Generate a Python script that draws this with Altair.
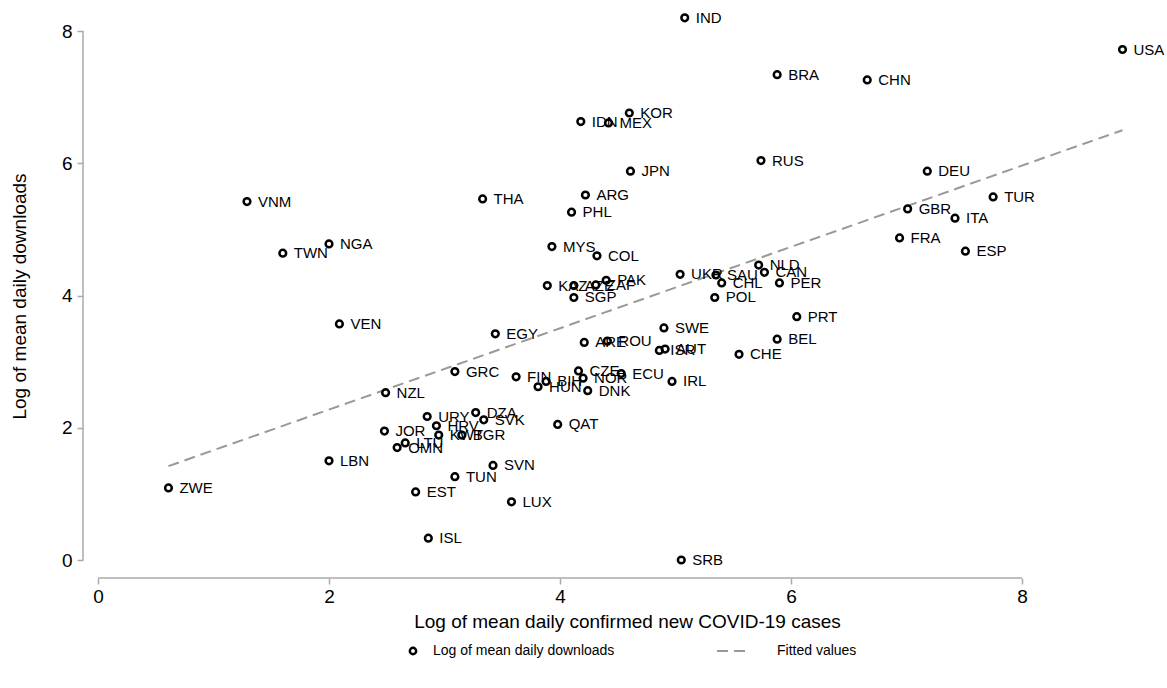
import altair as alt
import pandas as pd

countries = ["IND","USA","BRA","CHN","KOR","IDN","MEX","JPN","RUS","DEU","TUR","GBR","ITA","FRA","ESP",
             "VNM","THA","ARG","PHL","TWN","NGA","MYS","COL","KAZ","AZE","ZAF","PAK","SGP","UKR","SAU",
             "CHL","NLD","CAN","PER","POL","PRT","BEL","CHE","SWE","ISR","AUT","ARE","ROU","EGY","VEN",
             "GRC","FIN","BIH","HUN","CZE","NOR","ECU","DNK","IRL","NZL","QAT","DZA","SVK","URY","HRV",
             "JOR","KWT","BGR","LTU","OMN","SVN","TUN","LBN","EST","LUX","ISL","SRB","ZWE"]
log_cases = [5.08,8.87,5.88,6.66,4.60,4.18,4.42,4.61,5.74,7.18,7.75,7.01,7.42,6.94,7.51,
             1.29,3.33,4.22,4.10,1.60,2.00,3.93,4.32,3.89,4.12,4.31,4.40,4.12,5.04,5.35,
             5.40,5.72,5.77,5.90,5.34,6.05,5.88,5.55,4.90,4.86,4.91,4.21,4.41,3.44,2.09,
             3.09,3.62,3.88,3.81,4.16,4.20,4.53,4.24,4.97,2.49,3.98,3.27,3.34,2.85,2.93,
             2.48,2.95,3.15,2.66,2.59,3.42,3.09,2.00,2.75,3.58,2.86,5.05,0.61]
log_downloads = [8.20,7.72,7.34,7.26,6.76,6.63,6.61,5.88,6.04,5.88,5.49,5.31,5.17,4.87,4.67,
                 5.42,5.46,5.52,5.26,4.64,4.78,4.74,4.60,4.15,4.15,4.16,4.23,3.97,4.32,4.31,
                 4.19,4.46,4.35,4.19,3.97,3.68,3.34,3.11,3.51,3.17,3.19,3.29,3.31,3.42,3.57,
                 2.85,2.77,2.70,2.62,2.86,2.75,2.82,2.56,2.70,2.53,2.05,2.23,2.12,2.17,2.03,
                 1.95,1.89,1.89,1.77,1.70,1.43,1.26,1.50,1.03,0.88,0.33,0.00,1.09]
fit_x = [0.61, 8.87]
fit_y = [1.42, 6.50]
axis_ticks = [0, 2, 4, 6, 8]

PX_X = 115.5
PX_Y = 66.125
W = 9.0 * PX_X
H = 550
YMAX = H / PX_Y
FONT = "Liberation Sans"

pts = pd.DataFrame({"country": countries, "x": log_cases, "y": log_downloads})
fit = pd.DataFrame({"x": fit_x, "y": fit_y})

xs = alt.Scale(domain=[0, 9.0], nice=False, zero=False)
ys = alt.Scale(domain=[0, YMAX], nice=False, zero=False)

x_axis = alt.Axis(values=axis_ticks, format="d", domain=False, grid=False, offset=18, tickSize=6,
                  tickColor="#aaaaaa", tickWidth=1.5, labelFontSize=19, labelFont=FONT,
                  labelColor="black", labelPadding=3, labelFlush=False,
                  title="Log of mean daily confirmed new COVID-19 cases",
                  titleFont=FONT, titleFontSize=19, titleFontWeight="normal",
                  titleColor="black", titlePadding=6, titleX=529)
y_axis = alt.Axis(values=axis_ticks, format="d", domain=False, grid=False, offset=15, tickSize=6,
                  tickColor="#aaaaaa", tickWidth=1.5, labelFontSize=19, labelFont=FONT,
                  labelColor="black", labelPadding=5, labelFlush=False,
                  title="Log of mean daily downloads",
                  titleFont=FONT, titleFontSize=19, titleFontWeight="normal",
                  titleColor="black", titlePadding=32, titleY=286)

base_axes = alt.Chart(pd.DataFrame({"a": [0]})).mark_point(opacity=0).encode(
    x=alt.X("a:Q", scale=xs, axis=x_axis),
    y=alt.Y("a:Q", scale=ys, axis=y_axis),
)

y_line = alt.Chart(pd.DataFrame({"a": [0]})).mark_rule(color="#aaaaaa", strokeWidth=1.5).encode(
    x=alt.value(-15), y=alt.datum(0), y2=alt.datum(8)
)
x_line = alt.Chart(pd.DataFrame({"a": [0]})).mark_rule(color="#aaaaaa", strokeWidth=1.5).encode(
    y=alt.value(H + 18), x=alt.datum(0), x2=alt.datum(8)
)

fit_line = alt.Chart(fit).mark_line(color="#999999", strokeWidth=2, strokeDash=[11, 6]).encode(
    x=alt.X("x:Q", scale=xs), y=alt.Y("y:Q", scale=ys)
)

points = alt.Chart(pts).mark_point(shape="circle", filled=False, color="black",
                                   strokeWidth=2.5, size=45, opacity=1).encode(
    x=alt.X("x:Q", scale=xs), y=alt.Y("y:Q", scale=ys)
)
labels = alt.Chart(pts).mark_text(align="left", baseline="middle", dx=11, fontSize=15,
                                  font=FONT, color="black").encode(
    x=alt.X("x:Q", scale=xs), y=alt.Y("y:Q", scale=ys), text="country:N"
)

# legend
LY = 641
leg_pt = alt.Chart(pd.DataFrame({"a": [0]})).mark_point(shape="circle", filled=False, color="black",
                                                         strokeWidth=2.5, size=40, opacity=1).encode(
    x=alt.value(315), y=alt.value(LY))
leg_t1 = alt.Chart(pd.DataFrame({"t": ["Log of mean daily downloads"]})).mark_text(
    align="left", baseline="middle", fontSize=14, font=FONT, color="black").encode(
    x=alt.value(335), y=alt.value(LY), text="t:N")
leg_dash = alt.Chart(pd.DataFrame({"a": [0]})).mark_rule(color="#999999", strokeWidth=2,
                                                          strokeDash=[11, 6]).encode(
    x=alt.value(619), x2=alt.value(653), y=alt.value(LY))
leg_t2 = alt.Chart(pd.DataFrame({"t": ["Fitted values"]})).mark_text(
    align="left", baseline="middle", fontSize=14, font=FONT, color="black").encode(
    x=alt.value(679), y=alt.value(LY), text="t:N")

chart = alt.layer(base_axes, y_line, x_line, fit_line, points, labels,
                  leg_pt, leg_t1, leg_dash, leg_t2).properties(
    width=W, height=H,
    autosize=alt.AutoSizeParams(type="none"),
    padding={"left": 98, "top": 10, "right": 1167 - 98 - W, "bottom": 688 - 10 - H},
    background="white",
).configure_view(stroke=None)

chart.save("out.html", embed_options={"renderer": "svg", "actions": False})
